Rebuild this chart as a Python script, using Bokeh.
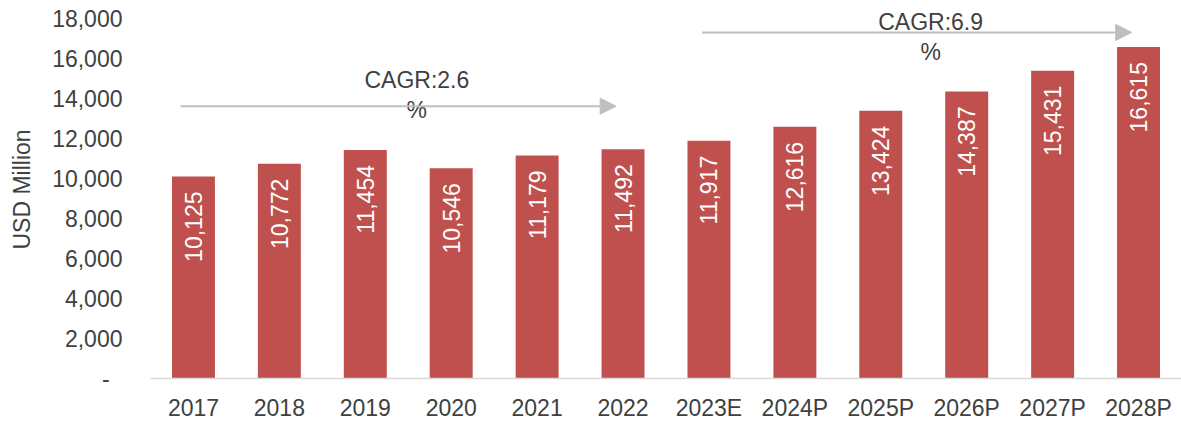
import math
from bokeh.plotting import figure
from bokeh.models import FactorRange, Range1d, FixedTicker, Arrow, NormalHead, ColumnDataSource
from bokeh.core.properties import value
from bokeh.embed import file_html
from bokeh.resources import INLINE

# ---- data ----
years = ["2017", "2018", "2019", "2020", "2021", "2022", "2023E",
         "2024P", "2025P", "2026P", "2027P", "2028P"]
market_usd_mn = [10125, 10772, 11454, 10546, 11179, 11492, 11917,
                 12616, 13424, 14387, 15431, 16615]
y_ticks = [0, 2000, 4000, 6000, 8000, 10000, 12000, 14000, 16000, 18000]
cagr_labels = ["CAGR:2.6\n%", "CAGR:6.9\n%"]

FONT = "Liberation Sans"
TXT = "#404040"
BAR = "#C0504D"
ARROW = "#BFBFBF"
FS = "23px"

src = ColumnDataSource(dict(
    x=years, top=market_usd_mn,
    label=[f"{v:,}" for v in market_usd_mn],
))

p = figure(
    x_range=FactorRange(factors=years, range_padding=0),
    y_range=Range1d(0, 18950),
    width=1181, height=423,
    output_backend="svg", toolbar_location=None,
    min_border_left=150, min_border_right=0,
    min_border_top=0, min_border_bottom=44,
)
p.outline_line_color = None
p.xgrid.visible = False
p.ygrid.visible = False
p.background_fill_color = "white"
p.border_fill_color = "white"

p.vbar(x="x", top="top", width=0.5, source=src, fill_color=BAR, line_color=None)

p.text(x="x", y="top", text="label", source=src,
       angle=math.pi / 2, text_align="right", text_baseline="middle",
       y_offset=15, text_color="white",
       text_font=value(FONT), text_font_size=FS)

# CAGR arrows (annotation positions)
head1 = NormalHead(size=16, fill_color=ARROW, line_color=ARROW)
p.add_layout(Arrow(end=head1, x_start=0.35, y_start=13650, x_end=5.42, y_end=13650,
                   line_color=ARROW, line_width=2))
head2 = NormalHead(size=16, fill_color=ARROW, line_color=ARROW)
p.add_layout(Arrow(end=head2, x_start=6.42, y_start=17350, x_end=11.42, y_end=17350,
                   line_color=ARROW, line_width=2))

p.text(x=[3.10, 9.08], y=[14200, 17100], text=cagr_labels,
       text_align="center", text_baseline="middle", text_line_height=1.15,
       text_color=TXT, text_font=value(FONT), text_font_size=FS)

# axes
xa = p.xaxis[0]
xa.axis_line_color = "#D9D9D9"
xa.axis_line_width = 1.5
xa.major_tick_line_color = None
xa.minor_tick_line_color = None
xa.major_tick_out = 0
xa.major_tick_in = 0
xa.major_label_standoff = 16
xa.major_label_text_font = FONT
xa.major_label_text_font_size = FS
xa.major_label_text_color = TXT

ya = p.yaxis[0]
ya.ticker = FixedTicker(ticks=y_ticks)
ya.axis_line_color = None
ya.major_tick_line_color = None
ya.minor_tick_line_color = None
ya.major_tick_out = 0
ya.major_tick_in = 0
ya.major_label_standoff = 28
ya.major_label_text_font = FONT
ya.major_label_text_font_size = FS
ya.major_label_text_color = TXT
ya.major_label_overrides = {t: (f"{t:,}" if t else "-\u00a0\u00a0") for t in y_ticks}
ya.axis_label = "USD Million"
ya.axis_label_text_font = FONT
ya.axis_label_text_font_size = "23px"
ya.axis_label_text_font_style = "normal"
ya.axis_label_text_color = TXT
ya.axis_label_standoff = 14

open("out.html", "w").write(file_html(p, INLINE))
